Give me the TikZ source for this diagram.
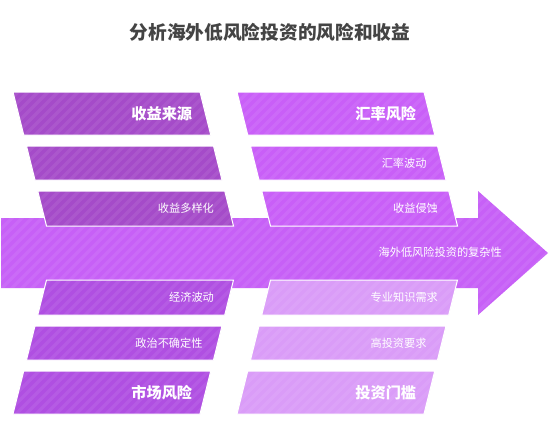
\documentclass[tikz,border=0pt]{standalone}
\usepackage{fontspec}
\setmainfont{Noto Sans CJK SC}
\definecolor{cTL}{HTML}{A54BC9}
\definecolor{cTR}{HTML}{C95FF8}
\definecolor{cAR}{HTML}{C760F7}
\definecolor{cBL}{HTML}{B04FE2}
\definecolor{cBR}{HTML}{DA9CF8}
\definecolor{ctitle}{HTML}{444444}
\tikzset{
  stripe/.style={draw=white,draw opacity=0.07,line width=3.5pt},
  boxline/.style={draw=white,line width=1pt},
  biglbl/.style={text=white,anchor=east,inner sep=0pt,font=\fontsize{15.2}{16}\selectfont\bfseries},
  smalllbl/.style={text=white,anchor=east,inner sep=0pt,font=\fontsize{11.2}{12}\selectfont},
}
\newcommand\mystripes{\foreach \k in {-500,-490,...,560} {\draw[stripe] (\k,450) -- ++(500,-500);}}
% generic parallelogram: corners #1..#4, colour #5
\newcommand\pg[5]{%
  \fill[#5] #1 -- #2 -- #3 -- #4 -- cycle;
  \begin{scope}\clip #1 -- #2 -- #3 -- #4 -- cycle; \mystripes \end{scope}
  \draw[boxline] #1 -- #2 -- #3 -- #4 -- cycle;}
% top boxes: left edge x = #1 + 0.25*(y-92)
\newcommand\tbox[4]{\pg{({#1+0.25*(#2-92)},#2)}{({#1+187+0.25*(#2-92)},#2)}{({#1+187+0.25*(#3-92)},#3)}{({#1+0.25*(#3-92)},#3)}{#4}}
% bottom boxes: left edge x = #1 + 0.25*(414-y)
\newcommand\bbox[4]{\pg{({#1+0.25*(414-#2)},#2)}{({#1+187+0.25*(414-#2)},#2)}{({#1+187+0.25*(414-#3)},#3)}{({#1+0.25*(414-#3)},#3)}{#4}}
\begin{document}
\begin{tikzpicture}[x=1pt,y=-1pt]
\useasboundingbox (0,0) rectangle (553,437);
\fill[white] (0,0) rectangle (553,437);
% title
\node[text=ctitle,font=\fontsize{18.7}{19}\selectfont\bfseries] (title) at (270,32) {分析海外低风险投资的风险和收益};
% arrow
\fill[cAR] (1,218) -- (478,218) -- (478,191) -- (548,253) -- (478,315) -- (478,288) -- (1,288) -- cycle;
\begin{scope}
\clip (1,218) -- (478,218) -- (478,191) -- (548,253) -- (478,315) -- (478,288) -- (1,288) -- cycle;
\mystripes
\end{scope}
\node[smalllbl] (spine) at (502,252) {海外低风险投资的复杂性};
% top-left boxes
\tbox{13}{92}{135}{cTL}
\tbox{13}{146}{180}{cTL}
\tbox{13}{191}{226}{cTL}
% top-right boxes
\tbox{237}{92}{135}{cTR}
\tbox{237}{146}{180}{cTR}
\tbox{237}{191}{226}{cTR}
% bottom-left boxes
\bbox{13}{280}{315}{cBL}
\bbox{13}{326}{360}{cBL}
\bbox{13}{371}{414}{cBL}
% bottom-right boxes
\bbox{237}{280}{315}{cBR}
\bbox{237}{326}{360}{cBR}
\bbox{237}{371}{414}{cBR}
% labels
\node[biglbl] (src) at ({200+0.25*(113.5-92)-13},113.5) {收益来源};
\node[smalllbl] (div) at ({200+0.25*(208.5-92)-15},208.5) {收益多样化};
\node[biglbl] (fx) at ({424+0.25*(113.5-92)-13},113.5) {汇率风险};
\node[smalllbl] (fxv) at ({424+0.25*(163-92)-15},163) {汇率波动};
\node[smalllbl] (ero) at ({424+0.25*(208.5-92)-15},208.5) {收益侵蚀};
\node[smalllbl] (eco) at ({200+0.25*(414-297.5)-15},297.5) {经济波动};
\node[smalllbl] (pol) at ({200+0.25*(414-343)-15},343) {政治不确定性};
\node[biglbl] (mkt) at ({200+0.25*(414-392.5)-13},392.5) {市场风险};
\node[smalllbl] (know) at ({424+0.25*(414-297.5)-15},297.5) {专业知识需求};
\node[smalllbl] (high) at ({424+0.25*(414-343)-15},343) {高投资要求};
\node[biglbl] (thr) at ({424+0.25*(414-392.5)-13},392.5) {投资门槛};
\end{tikzpicture}
\end{document}
